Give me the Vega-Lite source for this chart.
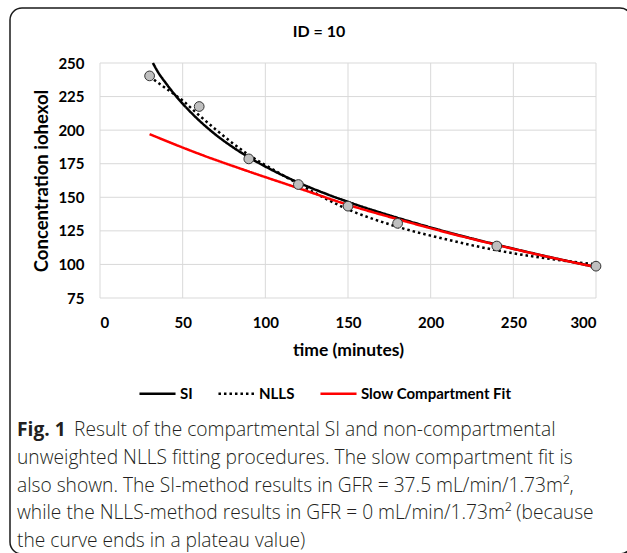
{
  "$schema": "https://vega.github.io/schema/vega-lite/v6.json",
  "width": 622,
  "height": 546,
  "autosize": {"type": "none"},
  "padding": {"left": 10, "top": 8, "right": 0, "bottom": 0},
  "background": "white",
  "config": {
    "view": {"stroke": "#1a1a1a", "strokeWidth": 1.5, "cornerRadius": 12},
    "font": "Lato"
  },
  "title": {
    "text": "ID = 10",
    "font": "Lato",
    "fontSize": 16,
    "fontWeight": "bold",
    "color": "#000000",
    "anchor": "middle",
    "frame": "group",
    "offset": -32,
    "dx": -2
  },
  "datasets": {
    "curves": [
      {"series": "SI", "t": 32, "c": 250},
      {"series": "SI", "t": 35, "c": 243.4},
      {"series": "SI", "t": 40, "c": 234.7},
      {"series": "SI", "t": 45, "c": 226.8},
      {"series": "SI", "t": 50, "c": 219.7},
      {"series": "SI", "t": 60, "c": 207.2},
      {"series": "SI", "t": 70, "c": 196.6},
      {"series": "SI", "t": 80, "c": 187.6},
      {"series": "SI", "t": 90, "c": 179.8},
      {"series": "SI", "t": 100, "c": 172.9},
      {"series": "SI", "t": 120, "c": 161},
      {"series": "SI", "t": 150, "c": 146.6},
      {"series": "SI", "t": 180, "c": 134.7},
      {"series": "SI", "t": 210, "c": 124.1},
      {"series": "SI", "t": 240, "c": 114.7},
      {"series": "SI", "t": 270, "c": 106},
      {"series": "SI", "t": 300, "c": 98},
      {"series": "NLLS", "t": 30, "c": 240},
      {"series": "NLLS", "t": 40, "c": 231},
      {"series": "NLLS", "t": 50, "c": 222},
      {"series": "NLLS", "t": 60, "c": 211},
      {"series": "NLLS", "t": 70, "c": 200.5},
      {"series": "NLLS", "t": 80, "c": 190.5},
      {"series": "NLLS", "t": 90, "c": 181.5},
      {"series": "NLLS", "t": 100, "c": 174},
      {"series": "NLLS", "t": 120, "c": 160},
      {"series": "NLLS", "t": 150, "c": 141},
      {"series": "NLLS", "t": 180, "c": 128},
      {"series": "NLLS", "t": 210, "c": 118.5},
      {"series": "NLLS", "t": 240, "c": 110.5},
      {"series": "NLLS", "t": 270, "c": 104.5},
      {"series": "NLLS", "t": 300, "c": 100},
      {"series": "Slow Compartment Fit", "t": 30, "c": 197},
      {"series": "Slow Compartment Fit", "t": 60, "c": 182.3},
      {"series": "Slow Compartment Fit", "t": 90, "c": 169.2},
      {"series": "Slow Compartment Fit", "t": 120, "c": 156.8},
      {"series": "Slow Compartment Fit", "t": 150, "c": 144.4},
      {"series": "Slow Compartment Fit", "t": 180, "c": 133.7},
      {"series": "Slow Compartment Fit", "t": 210, "c": 123.7},
      {"series": "Slow Compartment Fit", "t": 240, "c": 114.5},
      {"series": "Slow Compartment Fit", "t": 270, "c": 105.9},
      {"series": "Slow Compartment Fit", "t": 300, "c": 98}
    ],
    "points": [
      {"t": 30, "c": 240.4},
      {"t": 60, "c": 217.6},
      {"t": 90, "c": 178.6},
      {"t": 120, "c": 159.5},
      {"t": 150, "c": 143.4},
      {"t": 180, "c": 130.6},
      {"t": 240, "c": 113.7},
      {"t": 300, "c": 98.7}
    ],
    "caption": [
      {"line": 1, "part": "bold", "text": "Fig. 1"},
      {"line": 1, "part": "lead", "text": "Result of the compartmental SI and non-compartmental"},
      {"line": 2, "part": "normal", "text": "unweighted NLLS fitting procedures. The slow compartment fit is"},
      {"line": 3, "part": "normal", "text": "also shown. The SI-method results in GFR = 37.5 mL/min/1.73m²,"},
      {"line": 4, "part": "normal", "text": "while the NLLS-method results in GFR = 0 mL/min/1.73m² (because"},
      {"line": 5, "part": "normal", "text": "the curve ends in a plateau value)"}
    ]
  },
  "layer": [
    {
      "layer": [
        {
          "data": {"values": [{"t": 0}, {"t": 50}, {"t": 100}, {"t": 150}, {"t": 200}, {"t": 250}, {"t": 300}]},
          "mark": {"type": "rule", "color": "#d9d9d9", "strokeWidth": 1},
          "encoding": {
            "x": {"field": "t", "type": "quantitative"},
            "y": {"datum": 75, "type": "quantitative"},
            "y2": {"datum": 250}
          }
        },
        {
          "data": {"values": [{"c": 75}, {"c": 100}, {"c": 125}, {"c": 150}, {"c": 175}, {"c": 200}, {"c": 225}, {"c": 250}]},
          "mark": {"type": "rule", "color": "#d9d9d9", "strokeWidth": 1},
          "encoding": {
            "y": {"field": "c", "type": "quantitative"},
            "x": {"datum": 0, "type": "quantitative"},
            "x2": {"datum": 300}
          }
        },
        {
          "data": {"name": "curves"},
          "mark": {"type": "line", "strokeWidth": 2.5, "interpolate": "monotone"},
          "encoding": {
            "x": {"field": "t", "type": "quantitative"},
            "y": {"field": "c", "type": "quantitative"},
            "color": {
              "field": "series",
              "type": "nominal",
              "title": null,
              "scale": {"domain": ["SI", "NLLS", "Slow Compartment Fit"], "range": ["#000000", "#000000", "#ff0000"]},
              "legend": {
                "orient": "none",
                "legendX": 128,
                "legendY": 366,
                "direction": "horizontal",
                "symbolType": "stroke",
                "symbolSize": 1300,
                "symbolStrokeWidth": 2.5,
                "labelFont": "Lato",
                "labelFontSize": 15,
                "labelFontWeight": "bold",
                "labelColor": "#000000",
                "labelOffset": 3,
                "columnPadding": 20
              }
            },
            "strokeDash": {
              "field": "series",
              "type": "nominal",
              "title": null,
              "scale": {"domain": ["SI", "NLLS", "Slow Compartment Fit"], "range": [[1, 0], [2.5, 3], [1, 0]]}
            }
          }
        },
        {
          "data": {"name": "points"},
          "mark": {"type": "point", "shape": "circle", "filled": true, "fill": "#bfbfbf", "stroke": "#333333", "strokeWidth": 1, "size": 95, "opacity": 1},
          "encoding": {
            "x": {"field": "t", "type": "quantitative"},
            "y": {"field": "c", "type": "quantitative"}
          }
        }
      ],
      "encoding": {
        "x": {
          "type": "quantitative",
          "scale": {"domain": [0, 300], "range": [90, 586], "nice": false, "zero": false},
          "axis": {
            "orient": "bottom",
            "offset": -256,
            "values": [0, 50, 100, 150, 200, 250, 300],
            "grid": false,
            "domain": false,
            "ticks": false,
            "tickSize": 0,
            "labelPadding": 17,
            "labelFont": "Lato",
            "labelFontSize": 15,
            "labelFontWeight": "bold",
            "labelColor": "#000000",
            "title": "time (minutes)",
            "titleFont": "Lato",
            "titleFontSize": 17.5,
            "titleFontWeight": "bold",
            "titleColor": "#000000",
            "titlePadding": 11
          }
        },
        "y": {
          "type": "quantitative",
          "scale": {"domain": [75, 250], "range": [290, 55], "nice": false, "zero": false},
          "axis": {
            "orient": "left",
            "offset": -90,
            "values": [75, 100, 125, 150, 175, 200, 225, 250],
            "grid": false,
            "domain": false,
            "ticks": false,
            "tickSize": 0,
            "labelPadding": 16,
            "labelFont": "Lato",
            "labelFontSize": 15,
            "labelFontWeight": "bold",
            "labelColor": "#000000",
            "title": "Concentration iohexol",
            "titleFont": "Lato",
            "titleFontSize": 18.5,
            "titleFontWeight": "bold",
            "titleColor": "#000000",
            "titlePadding": 6
          }
        }
      }
    },
    {
      "data": {"name": "caption"},
      "encoding": {
        "x": {"value": 7},
        "y": {"field": "line", "type": "ordinal", "scale": {"type": "point", "range": [422, 533], "padding": 0}, "axis": null},
        "text": {"field": "text"}
      },
      "layer": [
        {
          "transform": [{"filter": "datum.part === 'bold'"}],
          "mark": {"type": "text", "align": "left", "baseline": "middle", "font": "Open Sans", "fontSize": 19.2, "fontWeight": "bold", "color": "#231f20"}
        },
        {
          "transform": [{"filter": "datum.part === 'lead'"}],
          "mark": {"type": "text", "align": "left", "baseline": "middle", "dx": 57, "font": "Open Sans", "fontSize": 19.2, "fontWeight": 300, "color": "#231f20"}
        },
        {
          "transform": [{"filter": "datum.part === 'normal'"}],
          "mark": {"type": "text", "align": "left", "baseline": "middle", "font": "Open Sans", "fontSize": 19.2, "fontWeight": 300, "color": "#231f20"}
        }
      ]
    }
  ],
  "resolve": {"scale": {"y": "independent"}}
}
